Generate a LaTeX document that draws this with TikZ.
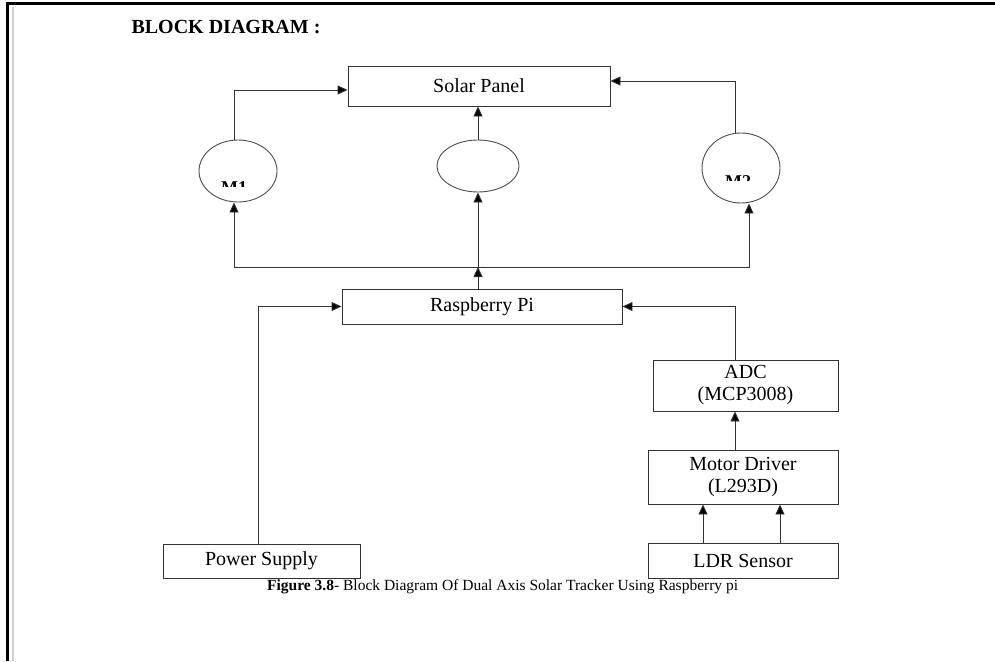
\documentclass[tikz,border=0pt]{standalone}
\usepackage{fontspec}
\setmainfont{Liberation Serif}
\usetikzlibrary{shapes.geometric,arrows.meta}

\tikzset{
  block/.style={draw=black!80,line width=0.9pt,inner sep=0pt,align=center,
    font=\fontsize{20}{22}\selectfont},
  motor/.style={ellipse,draw=black!70,line width=0.9pt,inner sep=0pt},
  arr/.style={draw=black!80,line width=0.9pt,-{Triangle[length=10pt,width=9pt,fill=black]}},
  wire/.style={draw=black!80,line width=0.9pt}
}

\begin{document}
\begin{tikzpicture}[x=1pt,y=-1pt]
\useasboundingbox (0,0) rectangle (995,661);

% page frame
\draw[line width=3pt] (7,661) -- (7,4) -- (995,4);
\draw[black!18,line width=2.5pt] (13,7) -- (13,661);

% title
\node (title) at (226,27) {\fontsize{20}{22}\selectfont\bfseries BLOCK DIAGRAM :};

% nodes
\node (sp) [block,minimum width=262pt,minimum height=40pt] at (479,86) {Solar Panel};
\node (m1) [motor,minimum width=78pt,minimum height=62pt] at (238,171) {};
\node (mc) [motor,minimum width=82pt,minimum height=52pt] at (478,166) {};
\node (m2) [motor,minimum width=78pt,minimum height=70pt] at (741,168) {};
\node (rpi) [block,minimum width=280pt,minimum height=35pt] at (482,306.5) {Raspberry Pi};
\node (adc) [block,minimum width=185pt,minimum height=51pt] at (745.5,385.5) {ADC\\(MCP3008)};
\node (md) [block,minimum width=190pt,minimum height=54pt] at (743,477) {Motor Driver\\(L293D)};
\node (ldr) [block,minimum width=190pt,minimum height=35pt] at (743,560.5) {LDR Sensor};
\node (ps) [block,minimum width=197pt,minimum height=34pt] at (261.5,561) {Power Supply};

% motor labels, cut off as printed
\begin{scope}
\clip (212,176) rectangle (264,186);
\node (lbl1) [anchor=north,inner sep=0pt] at (234,181) {\fontsize{18}{20}\selectfont\bfseries M1};
\end{scope}
\begin{scope}
\clip (712,170) rectangle (768,180);
\node (lbl2) [anchor=north,inner sep=0pt] at (738,175) {\fontsize{18}{20}\selectfont\bfseries M2};
\end{scope}

% caption
\node (cap) [anchor=north west,inner sep=0pt] at (267,579)
  {\fontsize{15.5}{17}\selectfont\textbf{Figure 3.8}- Block Diagram Of Dual Axis Solar Tracker Using Raspberry pi};

% columns and bus
\coordinate (xl) at (234,0);
\coordinate (xr) at (735,0);
\coordinate (xm) at (749,0);
\coordinate (xp) at (258,0);
\coordinate (xa) at (703,0);
\coordinate (xb) at (780,0);
\coordinate (bus) at (478,267);

% arrows
\draw[arr] (xl |- m1.north) |- ([yshift=-4pt]sp.west);
\draw[arr] (mc.north) -- (mc.north |- sp.south);
\draw[arr] (xr |- m2.north) |- ([yshift=5pt]sp.east);
\draw[arr] (bus |- rpi.north) -- (bus);
\draw[arr] (bus) -| (xl |- m1.south);
\draw[arr] (bus) -- (mc.south);
\draw[arr] (bus) -| (xm |- m2.south);
\draw[arr] (xp |- ps.north) |- (rpi.west);
\draw[arr] (xr |- adc.north) |- (rpi.east);
\draw[arr] (xr |- md.north) -- (xr |- adc.south);
\draw[arr] (xa |- ldr.north) -- (xa |- md.south);
\draw[arr] (xb |- ldr.north) -- (xb |- md.south);
\end{tikzpicture}
\end{document}
